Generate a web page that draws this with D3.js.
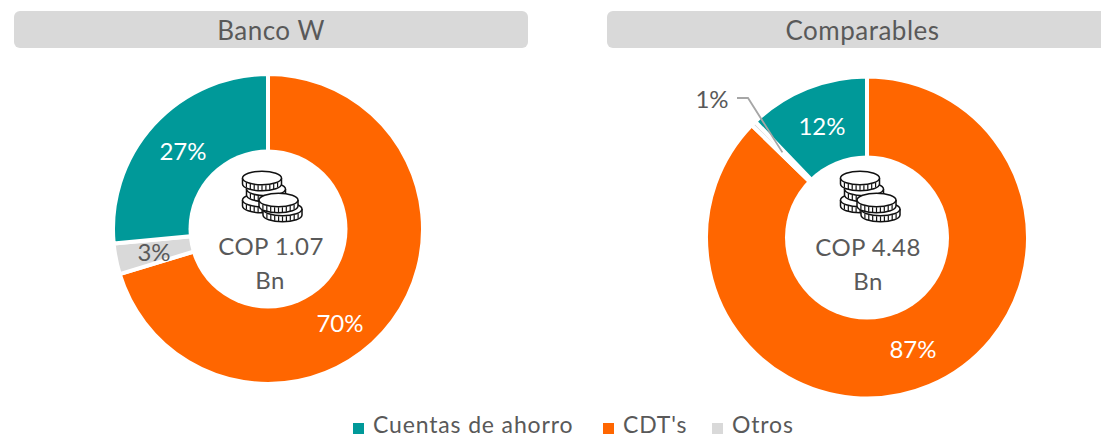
<!DOCTYPE html>
<html><head><meta charset="utf-8">
<script src="https://cdn.jsdelivr.net/npm/d3@7"></script>
<style>html,body{margin:0;padding:0;background:#fff}svg{display:block}text{font-family:Lato,"Open Sans",sans-serif}</style>
</head><body><svg id="c" width="1101" height="438"></svg>
<script>
const categories = ["Cuentas de ahorro","CDT's","Otros"];
const panelTitles = ["Banco W","Comparables"];
const centerLabels = [["COP 1.07","Bn"],["COP 4.48","Bn"]];
const bancoValues = [26.5,70.3,3.2];
const comparablesValues = [12.2,87.3,0.5];
const colors = ["#009999","#FF6600","#D9D9D9"];
const labelGrey="#595959";

const svg=d3.select("#c");
const pie=d3.pie().sort(null).value(d=>d.v);
// clockwise from 12 o'clock: CDT, Otros, Cuentas
const order=[1,2,0];
const panels=[
 {vals:bancoValues,cx:268,cy:229,R:155,r:79.5,bar:[14,528],
  labelPos:{0:[183,152],1:[340,324],2:[154,253]},cl:[[271,255],[270,289]],icon:[265,197.5]},
 {vals:comparablesValues,cx:867,cy:237.5,R:161,r:82,bar:[607,1118],
  labelPos:{0:[822,127],1:[913,350],2:[712,100]},cl:[[868,256],[868,290]],icon:[863,197.5]}
];
function coins(g){
  const rx=19.5,ry=6.8,h=6;
  const coin=(x,y)=>{
    const c=g.append("g").attr("transform",`translate(${x},${y})`);
    c.append("path").attr("d",`M${-rx},0 V${h} A${rx},${ry} 0 0 0 ${rx},${h} V0`).attr("fill","#fff").attr("stroke","#111").attr("stroke-width",1.5);
    c.append("ellipse").attr("rx",rx).attr("ry",ry).attr("fill","#fff").attr("stroke","#111").attr("stroke-width",1.5);
    d3.range(-0.8,0.81,0.2).forEach(t=>{
      const px=t*rx,py=ry*Math.sqrt(1-t*t);
      c.append("line").attr("x1",px).attr("x2",px).attr("y1",py+0.5).attr("y2",py+h-0.5).attr("stroke","#111").attr("stroke-width",1.2);
    });
  };
  coin(-3,2.5);
  coin(1,-8.5);
  coin(-3,-19.5);
  coin(17.5,11.5);
  coin(13.5,2.5);
}
panels.forEach((p,i)=>{
  svg.append("rect").attr("x",p.bar[0]).attr("y",11).attr("width",p.bar[1]-p.bar[0]).attr("height",37).attr("rx",6).attr("fill","#D9D9D9");
  svg.append("text").attr("x",(p.bar[0]+p.bar[1])/2).attr("y",40).attr("text-anchor","middle").attr("font-size",26).attr("letter-spacing",0.5).attr("fill",labelGrey).text(panelTitles[i]);
  const data=order.map(k=>({k,v:p.vals[k]}));
  const arcs=pie(data);
  const arc=d3.arc().innerRadius(p.r-4).outerRadius(p.R);
  const g=svg.append("g").attr("transform",`translate(${p.cx},${p.cy})`);
  g.selectAll("path.s").data(arcs).join("path").attr("class","s").attr("d",arc)
    .attr("fill",d=>colors[d.data.k]).attr("stroke","#fff").attr("stroke-width",4);
  g.append("circle").attr("r",p.r).attr("fill","#fff");
  arcs.forEach(d=>{
    const isOutside=i===1&&d.data.k===2;
    const col=d.data.k===2?labelGrey:"#fff";
    if(isOutside){
      const lm=d3.arc().innerRadius(120).outerRadius(120).centroid(d);
      g.append("path").attr("d",d3.line()([[737-p.cx,98-p.cy],[748-p.cx,98-p.cy],lm])).attr("fill","none").attr("stroke","#A6A6A6").attr("stroke-width",1.8);
    }
    const [x,y]=p.labelPos[d.data.k];
    svg.append("text").attr("x",x).attr("y",y).attr("dy","0.35em").attr("text-anchor","middle").attr("font-size",24).attr("fill",col).text(Math.round(d.data.v+0.001)+"%");
  });
  coins(svg.append("g").attr("transform",`translate(${p.icon[0]},${p.icon[1]})`));
  centerLabels[i].forEach((t,j)=>{
    svg.append("text").attr("x",p.cl[j][0]).attr("y",p.cl[j][1]).attr("text-anchor","middle").attr("font-size",24).attr("letter-spacing",0.4).attr("fill",labelGrey).text(t);
  });
});
// legend
const legendX=[373,623,732];
categories.forEach((c,i)=>{
  svg.append("rect").attr("x",legendX[i]-20).attr("y",423).attr("width",11).attr("height",11).attr("fill",colors[i]);
  svg.append("text").attr("x",legendX[i]).attr("y",433).attr("font-size",23).attr("letter-spacing",0.85).attr("fill",labelGrey).text(c);
});
</script></body></html>
